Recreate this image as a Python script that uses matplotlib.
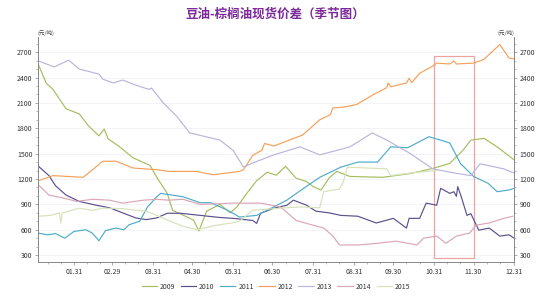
import numpy as np
import matplotlib
matplotlib.use('Agg')
import matplotlib.pyplot as plt
from matplotlib.patches import Rectangle
from matplotlib.ticker import MultipleLocator, FixedLocator

plt.rcParams['font.family'] = ['Noto Sans CJK SC', 'DejaVu Sans']

# day of year (leap year, Jan 1 = 0) and spread in yuan/ton
d2009 = [3, 9, 14, 19, 24, 34, 41, 49, 53, 56, 64, 75, 88, 93, 101, 105, 121, 125, 131, 141, 149, 154, 162, 169,
         177, 184, 191, 199, 207, 212, 218, 224, 230, 240, 265, 286, 303, 316, 326, 332, 342, 352, 365]
v2009 = [2550, 2330, 2260, 2145, 2030, 1970, 1830, 1710, 1790, 1675, 1590, 1450, 1360, 1220, 1030, 830, 715, 585,
         820, 900, 800, 870, 1040, 1180, 1280, 1245, 1350, 1210, 1170, 1110, 1070, 1210, 1290, 1230, 1220, 1265,
         1325, 1385, 1540, 1660, 1680, 1580, 1425]

d2010 = [3, 11, 16, 24, 34, 47, 57, 67, 77, 85, 93, 101, 111, 126, 141, 151, 166, 169, 172, 182, 192, 197, 207,
         214, 224, 233, 246, 260, 273, 283, 285, 293, 298, 306, 309, 316, 319, 321, 322, 325, 329, 332, 338, 346,
         354, 361, 365]
v2010 = [1350, 1240, 1120, 1010, 935, 890, 860, 800, 740, 720, 740, 795, 795, 770, 745, 735, 710, 675, 795, 855,
         890, 950, 890, 820, 800, 770, 760, 680, 735, 620, 735, 735, 915, 890, 1090, 1030, 1050, 995, 1110, 975,
         770, 790, 595, 620, 525, 540, 500]

d2011 = [3, 10, 16, 23, 30, 39, 44, 49, 54, 62, 68, 72, 80, 86, 93, 96, 113, 126, 134, 147, 156, 169, 182, 192,
         202, 217, 233, 246, 261, 271, 284, 300, 309, 316, 324, 334, 345, 352, 361, 365]
v2011 = [560, 540, 555, 500, 580, 600, 560, 470, 590, 620, 600, 660, 700, 870, 990, 1030, 990, 920, 920, 830, 750,
         770, 870, 950, 1060, 1220, 1340, 1400, 1400, 1580, 1570, 1700, 1660, 1625, 1385, 1230, 1150, 1050, 1070,
         1090]

d2012 = [3, 14, 37, 52, 62, 75, 93, 102, 123, 136, 156, 159, 166, 173, 175, 182, 204, 217, 225, 227, 235, 245,
         258, 268, 269, 271, 283, 285, 287, 293, 303, 306, 316, 319, 321, 334, 342, 354, 361, 365]
v2012 = [1180, 1240, 1220, 1410, 1410, 1330, 1310, 1290, 1290, 1250, 1290, 1310, 1480, 1540, 1620, 1590, 1720,
         1900, 1960, 2040, 2050, 2080, 2200, 2280, 2335, 2290, 2335, 2390, 2340, 2450, 2535, 2570, 2560, 2595,
         2560, 2570, 2615, 2790, 2630, 2620]

d2013 = [3, 15, 26, 34, 49, 52, 60, 67, 77, 87, 89, 98, 108, 118, 125, 141, 151, 159, 166, 182, 202, 217, 240,
         257, 268, 286, 303, 316, 332, 339, 357, 365]
v2013 = [2595, 2525, 2605, 2500, 2440, 2380, 2335, 2370, 2310, 2260, 2275, 2100, 1945, 1745, 1720, 1660, 1540,
         1340, 1390, 1485, 1580, 1485, 1580, 1745, 1660, 1500, 1320, 1280, 1240, 1380, 1320, 1270]

d2014 = [3, 11, 22, 32, 44, 57, 67, 83, 93, 102, 113, 126, 151, 172, 187, 191, 199, 207, 220, 227, 232, 246, 261,
         275, 291, 296, 306, 313, 321, 331, 336, 346, 357, 364]
v2014 = [1130, 1010, 975, 935, 960, 950, 915, 950, 960, 950, 960, 900, 915, 915, 870, 820, 710, 675, 620, 525,
         420, 420, 440, 465, 420, 500, 525, 440, 525, 560, 655, 680, 735, 760]

d2015 = [3, 12, 19, 20, 21, 26, 34, 44, 52, 67, 77, 85, 93, 102, 113, 124, 137, 150, 156, 162, 166, 182, 202, 217,
         220, 232, 235, 238, 253, 268, 271, 291, 306]
v2015 = [760, 770, 800, 680, 800, 820, 855, 830, 855, 850, 830, 820, 770, 710, 640, 600, 650, 680, 700, 780, 830,
         850, 870, 860, 1050, 1080, 1170, 1340, 1330, 1320, 1240, 1280, 1300]

years = ['2009', '2010', '2011', '2012', '2013', '2014', '2015']
colors = ['#a5bd5f', '#5b4f8f', '#4eaccb', '#f5a05a', '#b9b5dc', '#dba6b8', '#d6e2b8']

tick_days = [30, 59, 90, 120, 151, 181, 212, 243, 273, 304, 334, 365]
tick_labels = ['01.31', '02.29', '03.31', '04.30', '05.31', '06.30', '07.31', '08.31', '09.30', '10.31', '11.30', '12.31']

fig = plt.figure(figsize=(5.5, 3.0), dpi=100)
ax = fig.add_axes([0.069, 0.127, 0.866, 0.75])  # [left bottom width height]

series = [(d2009, v2009), (d2010, v2010), (d2011, v2011), (d2012, v2012),
          (d2013, v2013), (d2014, v2014), (d2015, v2015)]
for (d, v), yr, c in zip(series, years, colors):
    ax.plot(d, v, color=c, lw=0.85, label=yr)

# highlight box Oct 31 - Nov 30
ax.add_patch(Rectangle((304, 270), 30, 2390, fill=False, edgecolor='#eba3a3', lw=0.9))

ax.set_xlim(2.6, 365)
ax.set_ylim(220, 2880)
ax.set_xticks(tick_days)
ax.set_xticklabels(tick_labels)
ax.xaxis.set_minor_locator(FixedLocator([d + k for d in [0] + tick_days[:-1] for k in (10, 20)]))
ax.set_yticks(np.arange(300, 2701, 300))
ax.yaxis.set_minor_locator(MultipleLocator(100))
ax.grid(axis='y', color='#f0f0f6', lw=0.6)
ax.set_axisbelow(True)

ax.spines['top'].set_visible(False)
for s in ['left', 'right', 'bottom']:
    ax.spines[s].set_color('#888888')
    ax.spines[s].set_linewidth(0.7)

ax.tick_params(axis='both', which='major', labelsize=5, length=2.5, width=0.5, color='#888888', pad=1.5,
               labelcolor='#333333')
ax.tick_params(axis='both', which='minor', length=1.5, width=0.4, color='#888888')
ax.tick_params(axis='y', right=True, labelright=True, which='both')
ax.tick_params(axis='x', pad=2)

fig.text(0.069, 0.88, '(元/吨)', fontsize=4, color='#444444', ha='left', va='bottom')
fig.text(0.935, 0.88, '(元/吨)', fontsize=4, color='#444444', ha='right', va='bottom')

fig.suptitle('豆油-棕榈油现货价差（季节图）', x=0.5, y=0.975, fontsize=9, fontweight='bold', color='#7b2a9a')

ax.legend(loc='upper center', bbox_to_anchor=(0.5, -0.065), ncol=7, frameon=False, fontsize=5,
          handlelength=2.2, handletextpad=0.4, columnspacing=0.8, labelcolor='#333333')

plt.savefig('out.png', dpi=100, facecolor='w', edgecolor='w')
plt.close(fig)
